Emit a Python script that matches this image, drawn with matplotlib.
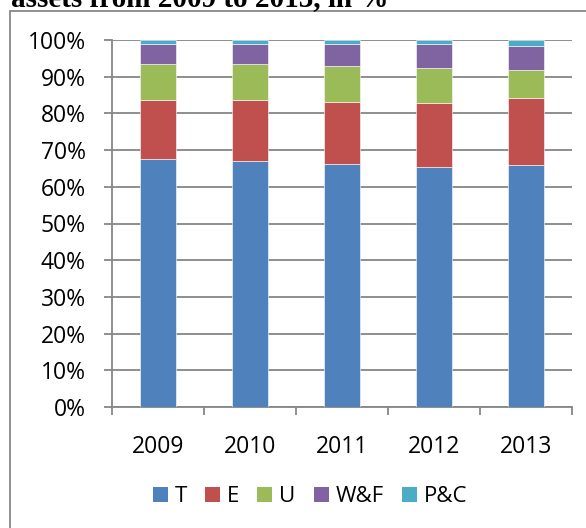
import matplotlib
matplotlib.use("Agg")
import matplotlib.pyplot as plt
from matplotlib.patches import Rectangle
import numpy as np

# shares of assets per year, in %
years = ["2009", "2010", "2011", "2012", "2013"]
T = [67.7, 66.9, 66.3, 65.3, 66.0]
E = [16.0, 16.8, 16.8, 17.6, 18.1]
U = [9.7, 9.7, 9.8, 9.4, 7.7]
WF = [5.4, 5.4, 5.9, 6.5, 6.7]
PC = [1.2, 1.2, 1.2, 1.2, 1.5]

series = [("T", T), ("E", E), ("U", U), ("W&F", WF), ("P&C", PC)]
colors = ["#4F81BD", "#C0504D", "#9BBB59", "#8064A2", "#4BACC6"]

plt.rcParams["font.family"] = ["Open Sans", "DejaVu Sans"]

W, H = 586, 528
fig = plt.figure(figsize=(W / 100, H / 100), dpi=100)
ax = fig.add_axes([112 / W, 1 - 407 / H, 460 / W, 367 / H])

# chart border (runs off the right and bottom edge)
fig.patches.append(Rectangle((10 / W, -0.1), 1.2, 1 - 10.5 / H + 0.1,
                             transform=fig.transFigure, fill=False,
                             edgecolor="#888888", lw=1.3))

# title, cut off at the top
fig.text(11 / W, 1 - 6.5 / H, "assets from 2009 to 2013, in %",
         family=["Liberation Serif"], weight="bold", fontsize=21,
         va="baseline", ha="left")

x = np.arange(len(years))
bottom = np.zeros(len(years))
for (name, vals), c in zip(series, colors):
    v = np.array(vals)
    ax.bar(x, v, 0.4, bottom=bottom, color=c, label=name,
           edgecolor="white", linewidth=0.4, zorder=3)
    bottom += v

ax.set_xlim(-0.5, 4.5)
ax.set_ylim(0, 100)
ax.set_yticks(np.arange(0, 101, 10))
ax.set_yticklabels(["%d%%" % t for t in range(0, 101, 10)])
ax.yaxis.grid(True, color="#868686", lw=1.3, zorder=0)
ax.set_axisbelow(True)

ax.set_xticks(x)
ax.set_xticklabels(years)
ax.set_xticks(np.arange(-0.5, 5, 1), minor=True)
ax.tick_params(axis="x", which="major", length=0, pad=20, labelsize=16.5)
ax.tick_params(axis="x", which="minor", length=6, width=1.3,
               color="#868686", direction="out")
ax.tick_params(axis="y", length=6, width=1.3, color="#868686",
               pad=13, labelsize=16.5)

for s in ["top", "right"]:
    ax.spines[s].set_visible(False)
for s in ["left", "bottom"]:
    ax.spines[s].set_color("#868686")
    ax.spines[s].set_linewidth(1.3)

leg = fig.legend(loc="center", bbox_to_anchor=(310 / W, 1 - 496.5 / H), ncol=5,
                 frameon=False, fontsize=16, handlelength=0.68, handleheight=0.68,
                 handletextpad=0.32, columnspacing=0.8, borderpad=0)
for h in leg.legend_handles:
    h.set_linewidth(0)

fig.savefig("out.png", dpi=100)
